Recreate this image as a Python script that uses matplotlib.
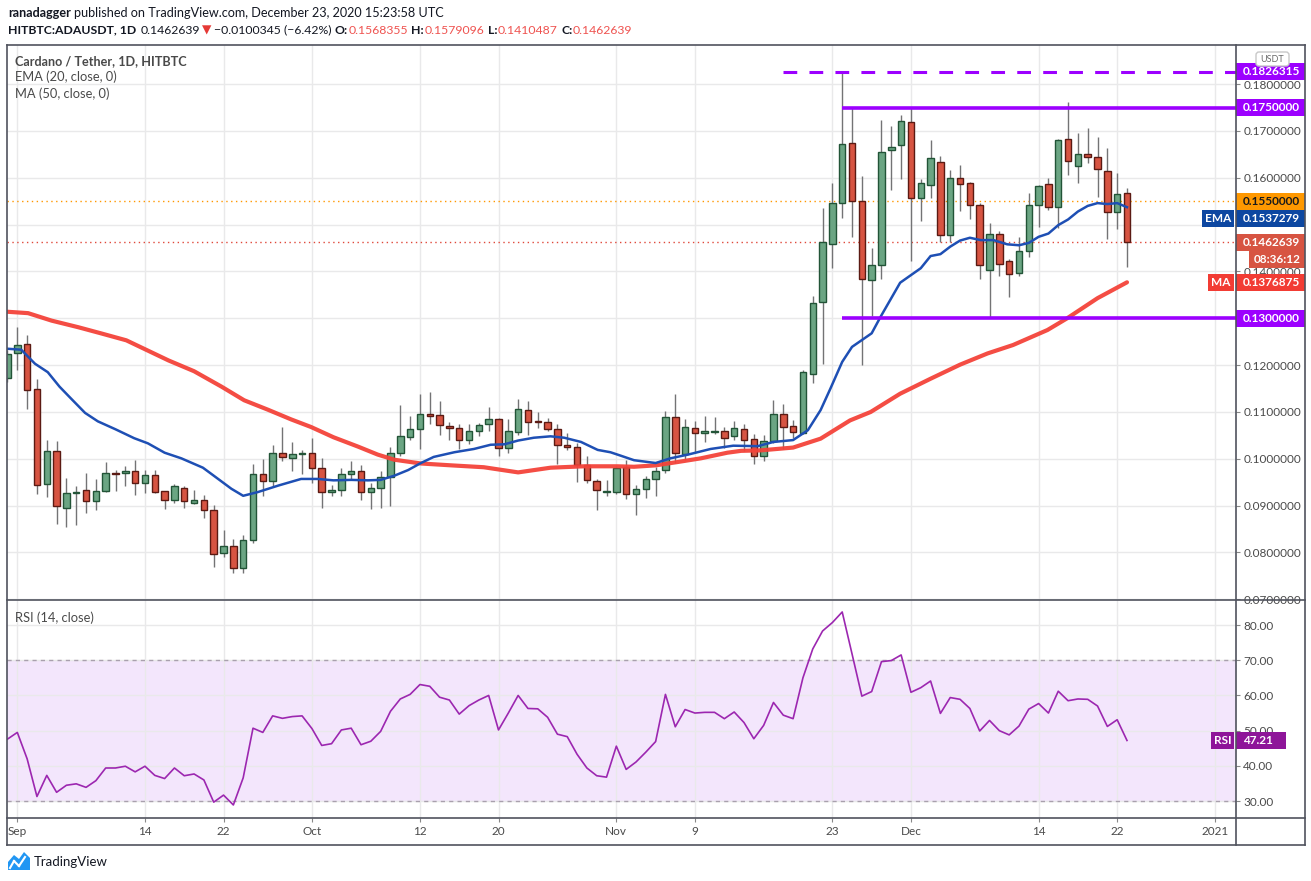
import matplotlib
matplotlib.use('Agg')
import matplotlib.pyplot as plt
import matplotlib.dates as mdates
import matplotlib.transforms as mtrans
from matplotlib.patches import Rectangle, FancyBboxPatch, Polygon
from matplotlib.lines import Line2D
import numpy as np
import pandas as pd

plt.rcParams['font.family'] = ['Lato', 'DejaVu Sans']

W, H = 1311, 881

# ---------------- data ----------------
dates = pd.date_range('2020-08-31', '2020-12-23', freq='D')
opens = [0.1173, 0.1225, 0.1246, 0.1149, 0.0947, 0.1016, 0.0896, 0.0926, 0.0934, 0.0909,
         0.0932, 0.0970, 0.0969, 0.0975, 0.0949, 0.0965, 0.0932, 0.0913, 0.0937, 0.0906,
         0.0911, 0.0891, 0.0799, 0.0814, 0.0766, 0.0826, 0.0968, 0.0953, 0.1013, 0.1002,
         0.1011, 0.1013, 0.0981, 0.0929, 0.0934, 0.0968, 0.0974, 0.0929, 0.0938, 0.0961,
         0.1013, 0.1047, 0.1064, 0.1095, 0.1094, 0.1071, 0.1066, 0.1041, 0.1060, 0.1075,
         0.1086, 0.1024, 0.1058, 0.1105, 0.1081, 0.1079, 0.1064, 0.1030, 0.1026, 0.0987,
         0.0953, 0.0929, 0.0929, 0.0983, 0.0924, 0.0936, 0.0956, 0.0977, 0.1090, 0.1011,
         0.1065, 0.1056, 0.1058, 0.1060, 0.1048, 0.1063, 0.1043, 0.1005, 0.1039, 0.1095,
         0.1071, 0.1056, 0.1182, 0.1334, 0.1458, 0.1546, 0.1674, 0.1550, 0.1381, 0.1413,
         0.1659, 0.1670, 0.1719, 0.1556, 0.1584, 0.1633, 0.1477, 0.1599, 0.1588, 0.1541,
         0.1404, 0.1481, 0.1422, 0.1396, 0.1443, 0.1541, 0.1586, 0.1537, 0.1682, 0.1625,
         0.1650, 0.1644, 0.1614, 0.1526, 0.1568355]
highs = [0.1232, 0.1282, 0.1264, 0.1170, 0.1040, 0.1038, 0.0959, 0.0942, 0.0970, 0.0957,
         0.0993, 0.0976, 0.0985, 0.0997, 0.0977, 0.0977, 0.0932, 0.0947, 0.0942, 0.0933,
         0.0922, 0.0901, 0.0849, 0.0829, 0.0837, 0.0988, 0.0999, 0.1029, 0.1067, 0.1035,
         0.1018, 0.1045, 0.1002, 0.0944, 0.0981, 0.0996, 0.0986, 0.0949, 0.0973, 0.1026,
         0.1114, 0.1091, 0.1139, 0.1142, 0.1123, 0.1078, 0.1074, 0.1074, 0.1077, 0.1110,
         0.1088, 0.1086, 0.1127, 0.1123, 0.1099, 0.1088, 0.1075, 0.1056, 0.1034, 0.1006,
         0.0957, 0.0955, 0.0985, 0.0997, 0.0944, 0.0963, 0.0983, 0.1102, 0.1138, 0.1085,
         0.1080, 0.1091, 0.1089, 0.1067, 0.1080, 0.1074, 0.1054, 0.1050, 0.1125, 0.1117,
         0.1082, 0.1190, 0.1348, 0.1536, 0.1588, 0.1826, 0.1749, 0.1604, 0.1451, 0.1724,
         0.1711, 0.1734, 0.1749, 0.1598, 0.1681, 0.1646, 0.1617, 0.1627, 0.1590, 0.1547,
         0.1503, 0.1486, 0.1426, 0.1473, 0.1567, 0.1584, 0.1599, 0.1682, 0.1761, 0.1695,
         0.1707, 0.1687, 0.1664, 0.1610, 0.1579096]
lows = [0.1165, 0.1189, 0.1106, 0.0924, 0.0919, 0.0861, 0.0854, 0.0858, 0.0884, 0.0890,
        0.0929, 0.0931, 0.0942, 0.0923, 0.0927, 0.0926, 0.0893, 0.0906, 0.0895, 0.0904,
        0.0873, 0.0768, 0.0791, 0.0756, 0.0756, 0.0821, 0.0921, 0.0941, 0.0996, 0.0974,
        0.0968, 0.0949, 0.0896, 0.0921, 0.0921, 0.0957, 0.0912, 0.0893, 0.0896, 0.0899,
        0.1006, 0.1041, 0.1021, 0.1074, 0.1050, 0.1041, 0.1020, 0.1031, 0.1049, 0.1059,
        0.1006, 0.1013, 0.1051, 0.1051, 0.1066, 0.1060, 0.0989, 0.1019, 0.0950, 0.0948,
        0.0891, 0.0920, 0.0925, 0.0914, 0.0880, 0.0916, 0.0921, 0.0970, 0.0990, 0.0998,
        0.1013, 0.1036, 0.1053, 0.1024, 0.1041, 0.1016, 0.0988, 0.0996, 0.1033, 0.1022,
        0.1045, 0.1054, 0.1162, 0.1202, 0.1408, 0.1515, 0.1474, 0.1200, 0.1305, 0.1383,
        0.1573, 0.1598, 0.1423, 0.1508, 0.1556, 0.1462, 0.1462, 0.1530, 0.1513, 0.1383,
        0.1302, 0.1391, 0.1346, 0.1391, 0.1430, 0.1496, 0.1531, 0.1492, 0.1605, 0.1588,
        0.1631, 0.1560, 0.1470, 0.1491, 0.1410487]
closes = [0.1223, 0.1244, 0.1147, 0.0945, 0.1016, 0.0900, 0.0926, 0.0930, 0.0909, 0.0932,
          0.0969, 0.0968, 0.0975, 0.0949, 0.0965, 0.0929, 0.0913, 0.0941, 0.0909, 0.0913,
          0.0891, 0.0797, 0.0814, 0.0766, 0.0826, 0.0968, 0.0953, 0.1013, 0.1004, 0.1011,
          0.1013, 0.0981, 0.0929, 0.0934, 0.0968, 0.0974, 0.0929, 0.0938, 0.0961, 0.1013,
          0.1049, 0.1064, 0.1096, 0.1092, 0.1073, 0.1066, 0.1041, 0.1060, 0.1073, 0.1086,
          0.1024, 0.1060, 0.1107, 0.1079, 0.1079, 0.1064, 0.1030, 0.1026, 0.0987, 0.0955,
          0.0934, 0.0931, 0.0981, 0.0924, 0.0936, 0.0956, 0.0975, 0.1090, 0.1013, 0.1067,
          0.1056, 0.1060, 0.1060, 0.1045, 0.1065, 0.1041, 0.1005, 0.1039, 0.1095, 0.1067,
          0.1058, 0.1185, 0.1332, 0.1462, 0.1546, 0.1672, 0.1550, 0.1383, 0.1413, 0.1655,
          0.1665, 0.1721, 0.1556, 0.1588, 0.1642, 0.1477, 0.1599, 0.1586, 0.1541, 0.1413,
          0.1479, 0.1417, 0.1394, 0.1443, 0.1543, 0.1582, 0.1537, 0.1680, 0.1635, 0.1650,
          0.1644, 0.1618, 0.1526, 0.1566, 0.1462639]

# EMA(20) and MA(50) (day offset from 2020-09-01, value)
ema_day = [-1, 0.4, 1.8, 3.1, 4.3, 5.5, 6.9, 8.2, 10, 11.9, 13.3, 15, 16.7, 18.9, 20, 21.8,
           23, 24.5, 26.6, 28.9, 30.6, 32.2, 34, 35.7, 37, 38.4, 39.8, 41.1, 42.4, 44.5,
           46.5, 48.2, 49.6, 51, 52.6, 54.3, 55.7, 57.4, 59.1, 60.4, 61.4, 62.8, 65, 66.5,
           68.3, 70.6, 72.9, 75.4, 77, 79, 80.5, 81.8, 82.8, 84, 85, 87, 87.9, 89.9, 92, 93,
           94, 95, 96, 97, 98.1, 99.4, 100.8, 102, 103, 104, 105, 106, 107, 108, 109, 110,
           111, 112, 113]
ema_val = [0.1235, 0.1233, 0.1203, 0.1185, 0.1154, 0.1128, 0.1098, 0.1080, 0.1063, 0.1044,
           0.1033, 0.1013, 0.1001, 0.0981, 0.0964, 0.0936, 0.0921, 0.0929, 0.0943, 0.0957,
           0.0957, 0.0954, 0.0955, 0.0954, 0.0955, 0.0964, 0.0976, 0.0991, 0.1004, 0.1014,
           0.1021, 0.1030, 0.1031, 0.1039, 0.1045, 0.1048, 0.1045, 0.1036, 0.1019, 0.1014,
           0.1007, 0.0997, 0.0991, 0.1001, 0.1009, 0.1021, 0.1028, 0.1027, 0.1036, 0.1040,
           0.1061, 0.1104, 0.1150, 0.1207, 0.1239, 0.1268, 0.1303, 0.1376, 0.1407, 0.1433,
           0.1437, 0.1453, 0.1466, 0.1472, 0.1467, 0.1467, 0.1458, 0.1456, 0.1461, 0.1474,
           0.1481, 0.1499, 0.1511, 0.1528, 0.1540, 0.1546, 0.1544, 0.1546, 0.1537279]
ma_day = [-1, 1.1, 3.5, 6.2, 8.5, 11.1, 12.9, 15.4, 18, 20.8, 23.1, 25.5, 27.9, 29.9, 32.2,
          34.7, 36.7, 38.4, 41.1, 44.2, 47.5, 51, 54.3, 57.7, 61.1, 62.8, 65, 67.2, 69.6,
          72.3, 73.7, 75.7, 79, 81.8, 84.8, 86.9, 89.9, 93, 96, 98.8, 101.4, 104.9, 106.9,
          110, 113]
ma_val = [0.1314, 0.1311, 0.1295, 0.1281, 0.1268, 0.1253, 0.1235, 0.1210, 0.1187, 0.1154,
          0.1125, 0.1105, 0.1084, 0.1068, 0.1046, 0.1026, 0.1009, 0.0998, 0.0990, 0.0986,
          0.0982, 0.0971, 0.0981, 0.0984, 0.0984, 0.0983, 0.0986, 0.0993, 0.1001, 0.1013,
          0.1017, 0.1018, 0.1024, 0.1043, 0.1082, 0.1100, 0.1139, 0.1171, 0.1201, 0.1225,
          0.1243, 0.1275, 0.1300, 0.1343, 0.1376875]

rsi_val = [47.6, 49.5, 42.0, 31.3, 37.3, 32.5, 34.5, 34.9, 33.9, 35.8,
           39.4, 39.4, 39.9, 38.3, 39.9, 37.3, 36.4, 39.4, 37.2, 37.7,
           36.0, 29.7, 31.7, 28.9, 36.6, 50.7, 49.5, 54.2, 53.5, 54.0,
           54.2, 50.6, 45.8, 46.3, 50.2, 50.7, 46.0, 47.0, 49.8, 55.5,
           59.0, 60.3, 63.1, 62.6, 59.5, 58.7, 54.7, 57.1, 58.7, 60.0,
           50.2, 55.0, 60.0, 56.3, 56.2, 53.8, 49.0, 48.3, 43.3, 39.4,
           37.2, 36.8, 45.6, 39.0, 41.1, 43.9, 46.9, 60.3, 51.1, 56.0,
           55.0, 55.2, 55.2, 53.4, 55.3, 52.3, 47.7, 51.5, 58.0, 54.4,
           53.4, 65.0, 73.2, 78.3, 80.7, 83.7, 71.8, 59.8, 61.1, 69.6,
           69.9, 71.5, 60.9, 62.2, 64.1, 54.9, 59.4, 58.9, 56.3, 49.9,
           52.9, 50.0, 48.8, 51.3, 56.1, 57.7, 55.0, 61.2, 58.5, 59.0,
           58.9, 57.0, 51.2, 53.1, 47.21]

tick_dates = ['2020-09-01', '2020-09-14', '2020-09-22', '2020-10-01', '2020-10-12',
              '2020-10-20', '2020-11-01', '2020-11-09', '2020-11-23', '2020-12-01',
              '2020-12-14', '2020-12-22', '2021-01-01']
tick_labels = ['Sep', '14', '22', 'Oct', '12', '20', 'Nov', '9', '23', 'Dec', '14', '22', '2021']
price_ticks = [0.07, 0.08, 0.09, 0.10, 0.11, 0.12, 0.13, 0.14, 0.15, 0.16, 0.17, 0.18]
hidden_price_ticks = [0.13, 0.15]   # covered by the coloured labels in the reference
rsi_ticks = [30, 40, 50, 60, 70, 80]

level_top = 0.1826315
level_res = 0.1750000
level_sup = 0.1300000
level_mid = 0.1550000
last_close = 0.1462639
ema_last = 0.1537279
ma_last = 0.1376875
rsi_last = 47.21
dash_start = '2020-11-18'
line_start = '2020-11-24'

# ---------------- colours ----------------
UP_FC, UP_EC = '#6ba583', '#225437'
DN_FC, DN_EC = '#d75442', '#5b1a13'
WICK = '#737375'
EMA_C = '#1e4fb4'
MA_C = '#f4433a'
PURPLE = '#9c00ff'
ORANGE = '#ff9800'
RSI_C = '#9c27b0'
GRID = '#e9e9ea'
FRAME = '#50535e'
TXT = '#4a4a4a'

fig = plt.figure(figsize=(W / 100, H / 100), dpi=100)
fig.patch.set_facecolor('white')
ID = mtrans.IdentityTransform()


def fr(x0, y0, x1, y1):
    return [x0 / W, 1 - y1 / H, (x1 - x0) / W, (y1 - y0) / H]


ax = fig.add_axes(fr(7, 45, 1236, 600))
rax = fig.add_axes(fr(7, 600, 1236, 818))

x = mdates.date2num(dates.to_pydatetime())
sep1 = mdates.date2num(pd.Timestamp('2020-09-01').to_pydatetime())
xlim = (x[0] - 0.05, sep1 + 124.1)

o = np.array(opens); h = np.array(highs); l = np.array(lows); c = np.array(closes)
up = c >= o
body_lo = np.minimum(o, c)
body_h = np.maximum(np.abs(c - o), 0.00012)

ax.vlines(x, l, h, color=WICK, lw=1, zorder=3)
ax.bar(x[up], body_h[up], bottom=body_lo[up], width=0.66, color=UP_FC,
       edgecolor=UP_EC, linewidth=1, zorder=4)
ax.bar(x[~up], body_h[~up], bottom=body_lo[~up], width=0.66, color=DN_FC,
       edgecolor=DN_EC, linewidth=1, zorder=4)

ax.plot(sep1 + np.array(ma_day), ma_val, color=MA_C, lw=3.0, alpha=0.95,
        solid_capstyle='round', zorder=5)
ax.plot(sep1 + np.array(ema_day), ema_val, color=EMA_C, lw=1.8, zorder=5)

xd = lambda s: mdates.date2num(pd.Timestamp(s).to_pydatetime())
ax.hlines(level_top, xd(dash_start), xlim[1], color=PURPLE, lw=2.2,
          linestyles=(0, (4.5, 4)), zorder=6)
ax.hlines([level_res, level_sup], xd(line_start), xlim[1], color=PURPLE, lw=2.6, zorder=6)
ax.axhline(level_mid, color=ORANGE, lw=1, ls=(0, (1, 2.5)), zorder=2)
ax.axhline(last_close, color='#e0483a', lw=1, ls=(0, (1, 2.5)), zorder=2)

ax.set_xlim(*xlim)
ax.set_ylim(0.06985, 0.18836)
ax.set_yticks(price_ticks)
ax.set_yticklabels(['' if any(abs(v - hv) < 1e-9 for hv in hidden_price_ticks)
                    else f'{v:.7f}' for v in price_ticks])
tx = [xd(s) for s in tick_dates]
for a in (ax, rax):
    a.set_xticks(tx)
    a.grid(True, color=GRID, lw=1)
    for s in a.spines.values():
        s.set_visible(False)
    a.yaxis.tick_right()
    a.tick_params(axis='y', which='both', length=3, width=0.8, color='#888888',
                  pad=2.2, labelsize=8.5, labelcolor=TXT)
    a.set_facecolor('white')
ax.tick_params(axis='x', length=0, labelbottom=False)
rax.set_xticklabels(tick_labels)
rax.tick_params(axis='x', length=3, width=0.8, color='#888888', direction='out',
                pad=3, labelsize=8.5, labelcolor=TXT)

# RSI pane
rax.axhspan(30, 70, color='#f3e6fc', zorder=0.5, lw=0)
rax.axhline(70, color='#a9a0ad', lw=1, ls=(0, (3, 3)), zorder=2)
rax.axhline(30, color='#a9a0ad', lw=1, ls=(0, (3, 3)), zorder=2)
rax.plot(x, rsi_val, color=RSI_C, lw=1.2, zorder=4)
rax.set_xlim(*xlim)
rax.set_ylim(25.2, 87.1)
rax.set_yticks(rsi_ticks)
rax.set_yticklabels([f'{v:.2f}' for v in rsi_ticks])


# ---------------- figure-level helpers (pixel coords, origin top-left) ----------------
def ftext(xp, yp, s, **kw):
    kw.setdefault('va', 'center')
    kw.setdefault('ha', 'left')
    return fig.text(xp, H - yp, s, transform=ID, **kw)


def frect(x0, y0, x1, y1, **kw):
    r = Rectangle((x0, H - y1), x1 - x0, y1 - y0, transform=ID, **kw)
    fig.add_artist(r)
    return r


def fline(x0, y0, x1, y1, **kw):
    ln = Line2D([x0, x1], [H - y0, H - y1], transform=ID, **kw)
    fig.add_artist(ln)


def ypx(a, v):
    return H - a.transData.transform((xlim[0], v))[1]


BH = 17


def box(yc, text, fc, tc='white', x0=1236, x1=1305, tx=1243, ha='left', fs=8.5):
    frect(x0, yc - BH / 2, x1, yc + BH / 2, facecolor=fc, edgecolor='none', zorder=5)
    ftext(tx, yc, text, color=tc, fontsize=fs, weight='bold', ha=ha, zorder=6)


# frame
for seg in [(7, 45, 1305, 45), (7, 845, 1305, 845), (7, 45, 7, 845), (1305, 45, 1305, 845),
            (1236, 45, 1236, 845), (7, 600, 1305, 600), (7, 818, 1305, 818)]:
    fline(*seg, color=FRAME, lw=1.2, zorder=7)

# price labels
y_top = ypx(ax, level_top)
box(y_top, f'{level_top:.7f}', PURPLE)
box(ypx(ax, level_res), f'{level_res:.7f}', PURPLE)
y_mid = ypx(ax, level_mid)
box(y_mid, f'{level_mid:.7f}', ORANGE, tc='#1a1a1a')
y_ema = max(ypx(ax, ema_last), y_mid + BH + 0.5)
box(y_ema, f'{ema_last:.7f}', '#0d47a1')
box(y_ema, 'EMA', '#0d47a1', x0=1202, x1=1234, tx=1218, ha='center')
y_last = ypx(ax, last_close)
box(y_last, f'{last_close:.7f}', '#d75442')
box(y_last + BH + 0.5, '08:36:12', '#d75442', x0=1249, tx=1277, ha='center')
y_ma = ypx(ax, ma_last)
box(y_ma, f'{ma_last:.7f}', '#f23c34')
box(y_ma, 'MA', '#f23c34', x0=1208, x1=1234, tx=1221, ha='center')
box(ypx(ax, level_sup), f'{level_sup:.7f}', PURPLE)

# USDT tag
ub = FancyBboxPatch((1256, H - 66), 33, 14, boxstyle='round,pad=0,rounding_size=3',
                    transform=ID, facecolor='white', edgecolor='#c8c8c8', lw=1, zorder=5)
fig.add_artist(ub)
ftext(1272.5, 59, 'USDT', color='#6a6a6a', fontsize=6.5, ha='center', zorder=6)

# RSI labels
y_rsi = ypx(rax, rsi_last)
box(y_rsi, f'{rsi_last:.2f}', '#8e1599', x0=1236, x1=1286)
box(y_rsi, 'RSI', '#8e1599', x0=1211, x1=1234, tx=1222.5, ha='center')

# legends
ftext(15, 61, 'Cardano / Tether, 1D, HITBTC', color=TXT, fontsize=9.1, weight='bold')
ftext(15, 77, 'EMA (20, close, 0)', color=TXT, fontsize=9.3)
ftext(15, 94, 'MA (50, close, 0)', color=TXT, fontsize=9.3)
ftext(15, 618, 'RSI (14, close)', color=TXT, fontsize=9.3)

# header
renderer = fig.canvas.get_renderer()


def seq(xp, yp, parts, fs=9.0):
    for s, col, wt, gap in parts:
        t = ftext(xp, yp, s, color=col, fontsize=fs, weight=wt)
        xp += t.get_window_extent(renderer=renderer).width + gap


BLK = '#131722'
RED = '#ef5350'
seq(8, 13, [('ranadagger', BLK, 'bold', 3.5),
            ('published on TradingView.com, December 23, 2020 15:23:58 UTC', BLK, 'normal', 0)],
    fs=9.1)
seq(8, 30, [('HITBTC:ADAUSDT, 1D', BLK, 'bold', 4.5),
            ('0.1462639', BLK, 'normal', 1.5),
            ('\u25bc', '#e53935', 'normal', 2.5),
            ('\u22120.0100345 (\u22126.42%)', BLK, 'normal', 3.5),
            ('O:', BLK, 'bold', 0.5), ('0.1568355', RED, 'normal', 3.5),
            ('H:', BLK, 'bold', 0.5), ('0.1579096', RED, 'normal', 3.5),
            ('L:', BLK, 'bold', 0.5), ('0.1410487', RED, 'normal', 3.5),
            ('C:', BLK, 'bold', 0.5), ('0.1462639', RED, 'normal', 0)],
    fs=8.85)

# TradingView logo
logo = Polygon([(8, H - 870), (8, H - 862), (14, H - 855), (19, H - 859), (24, H - 852),
                (30, H - 858), (30, H - 870)], closed=True, transform=ID,
               facecolor='#2196f3', edgecolor='none', zorder=5)
fig.add_artist(logo)
fline(10, 868, 14, 861, color='white', lw=1.5, zorder=6)
fline(14, 861, 19, 866, color='white', lw=1.5, zorder=6)
fline(19, 866, 25, 857, color='white', lw=1.5, zorder=6)
ftext(34, 862, 'TradingView', color='#131722', fontsize=9.5)

fig.savefig('out.png', dpi=100, facecolor='white')
